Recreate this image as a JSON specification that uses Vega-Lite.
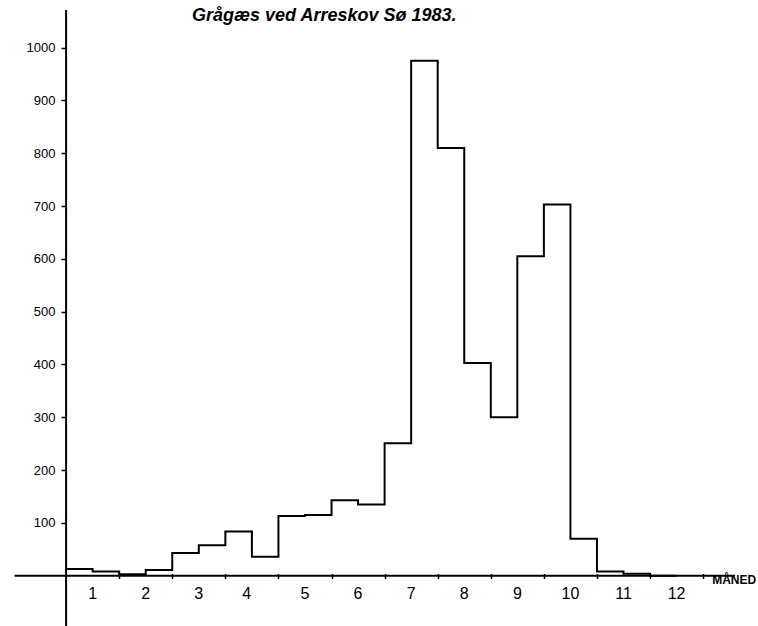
{
  "$schema": "https://vega.github.io/schema/vega-lite/v6.json",
  "autosize": "none",
  "width": 722,
  "height": 616,
  "padding": {"left": 13, "top": 10, "right": 23, "bottom": 0},
  "background": "white",
  "title": {
    "text": "Grågæs ved Arreskov Sø 1983.",
    "font": "Liberation Sans",
    "fontSize": 18,
    "fontStyle": "italic",
    "fontWeight": "bold",
    "color": "black",
    "anchor": "start",
    "dx": 179,
    "offset": -16
  },
  "config": {
    "view": {"stroke": null},
    "axis": {"grid": false}
  },
  "encoding": {
    "x": {
      "field": "x",
      "type": "quantitative",
      "scale": {"domain": [-1, 12.6], "nice": false, "zero": false},
      "axis": {
        "values": [1, 2, 3, 4, 5, 6, 7, 8, 9, 10, 11, 12],
        "labels": false,
        "domain": false,
        "ticks": true,
        "tickSize": 5,
        "tickWidth": 1.5,
        "tickColor": "black",
        "offset": -52.5,
        "title": null
      }
    },
    "y": {
      "field": "y",
      "type": "quantitative",
      "scale": {"domain": [-95, 1071], "nice": false, "zero": false},
      "axis": {
        "values": [100, 200, 300, 400, 500, 600, 700, 800, 900, 1000],
        "format": "d",
        "domain": false,
        "ticks": true,
        "tickSize": 5,
        "tickWidth": 1.5,
        "tickColor": "black",
        "labelFont": "Liberation Sans",
        "labelFontSize": 13,
        "labelColor": "black",
        "labelPadding": 6,
        "offset": -53,
        "title": null
      }
    }
  },
  "layer": [
    {
      "data": {"values": [
        {"x": -0.97, "x2": 12.6, "y": 0, "y2": 0},
        {"x": 0, "x2": 0, "y": -95, "y2": 1071}
      ]},
      "mark": {"type": "rule", "color": "black", "strokeWidth": 2},
      "encoding": {
        "x2": {"field": "x2"},
        "y2": {"field": "y2"}
      }
    },
    {
      "data": {"values": [
        {"x": 0.0, "y": 13},
        {"x": 0.5, "y": 8},
        {"x": 1.0, "y": 3},
        {"x": 1.5, "y": 11},
        {"x": 2.0, "y": 43},
        {"x": 2.5, "y": 58},
        {"x": 3.0, "y": 84},
        {"x": 3.5, "y": 36},
        {"x": 4.0, "y": 113},
        {"x": 4.5, "y": 115},
        {"x": 5.0, "y": 143},
        {"x": 5.5, "y": 135},
        {"x": 6.0, "y": 251},
        {"x": 6.5, "y": 975},
        {"x": 7.0, "y": 810},
        {"x": 7.5, "y": 403},
        {"x": 8.0, "y": 300},
        {"x": 8.5, "y": 605},
        {"x": 9.0, "y": 703},
        {"x": 9.5, "y": 70},
        {"x": 10.0, "y": 8},
        {"x": 10.5, "y": 4},
        {"x": 11.0, "y": 0},
        {"x": 11.5, "y": 0}
      ]},
      "mark": {"type": "line", "interpolate": "step-after", "color": "black", "strokeWidth": 2}
    },
    {
      "data": {"values": [
        {"x": 0.5, "y": -35, "label": "1"},
        {"x": 1.5, "y": -35, "label": "2"},
        {"x": 2.5, "y": -35, "label": "3"},
        {"x": 3.4, "y": -35, "label": "4"},
        {"x": 4.5, "y": -35, "label": "5"},
        {"x": 5.5, "y": -35, "label": "6"},
        {"x": 6.5, "y": -35, "label": "7"},
        {"x": 7.5, "y": -35, "label": "8"},
        {"x": 8.5, "y": -35, "label": "9"},
        {"x": 9.5, "y": -35, "label": "10"},
        {"x": 10.5, "y": -35, "label": "11"},
        {"x": 11.5, "y": -35, "label": "12"}
      ]},
      "mark": {"type": "text", "font": "Liberation Sans", "fontSize": 16, "color": "black", "align": "center", "baseline": "middle"},
      "encoding": {"text": {"field": "label"}}
    },
    {
      "data": {"values": [
        {"x": 12.17, "y": -8, "label": "MÅNED"}
      ]},
      "mark": {"type": "text", "font": "Liberation Sans", "fontSize": 12, "fontWeight": "bold", "color": "black", "align": "left", "baseline": "middle"},
      "encoding": {"text": {"field": "label"}}
    }
  ]
}
